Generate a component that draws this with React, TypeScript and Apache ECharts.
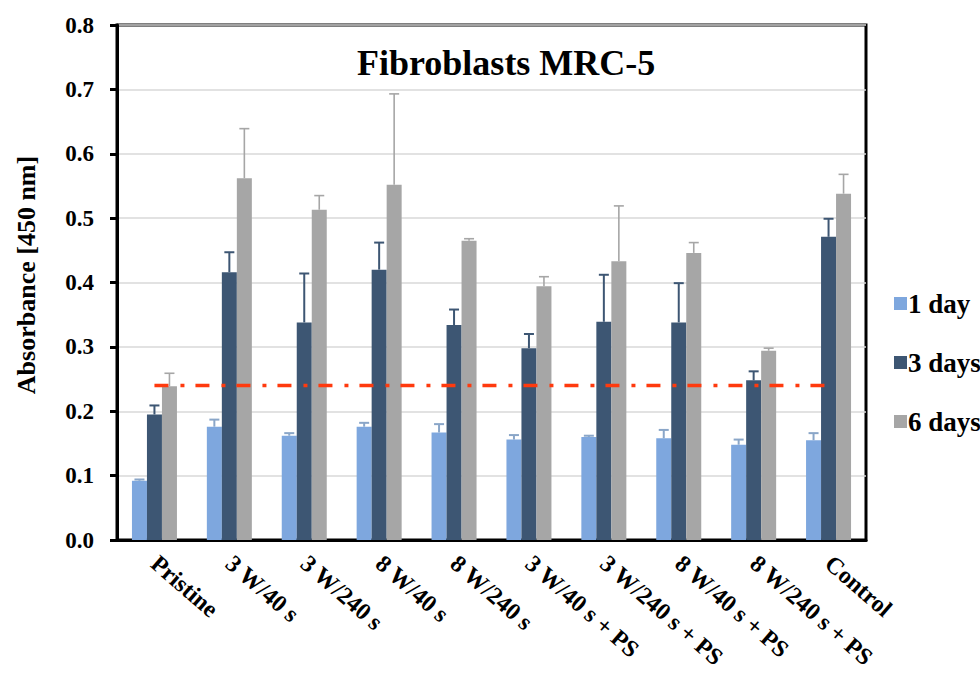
import React, { useEffect, useRef } from "react";
import * as echarts from "echarts";

const categories = [
  "Pristine",
  "3 W/40 s",
  "3 W/240 s",
  "8 W/40 s",
  "8 W/240 s",
  "3 W/40 s + PS",
  "3 W/240 s + PS",
  "8 W/40 s + PS",
  "8 W/240 s + PS",
  "Control",
];

const day1 = [0.092, 0.176, 0.162, 0.176, 0.167, 0.156, 0.16, 0.158, 0.148, 0.155];
const day1Err = [0.002, 0.011, 0.004, 0.006, 0.013, 0.007, 0.002, 0.013, 0.008, 0.011];
const day3 = [0.195, 0.416, 0.338, 0.42, 0.334, 0.298, 0.339, 0.338, 0.248, 0.471];
const day3Err = [0.014, 0.031, 0.076, 0.042, 0.024, 0.022, 0.073, 0.061, 0.014, 0.028];
const day6 = [0.239, 0.562, 0.513, 0.552, 0.465, 0.394, 0.433, 0.446, 0.294, 0.538];
const day6Err = [0.02, 0.077, 0.022, 0.141, 0.003, 0.015, 0.086, 0.016, 0.004, 0.03];
const referenceLevel = 0.24;

const seriesNames = ["1 day", "3 days", "6 days"];
const yAxisTitle = "Absorbance [450 nm]";
const colors = ["#7EA7DE", "#3D5673", "#A6A6A6"];
const errColors = ["#8AA6C8", "#3D5673", "#A6A6A6"];

const FONT = "'Liberation Serif', 'Times New Roman', serif";

function errorSeries(idx: number, values: number[], errs: number[], offset: number) {
  return {
    type: "custom",
    name: seriesNames[idx] + " err",
    z: 5,
    silent: true,
    data: values.map((v, i) => [i, v, errs[i]]),
    renderItem: (_params: any, api: any) => {
      const x = api.value(0);
      const v = api.value(1);
      const e = api.value(2);
      const base = api.coord([x, v]);
      const top = api.coord([x, v + e]);
      const px = base[0] + offset;
      const style = { stroke: errColors[idx], lineWidth: idx === 2 ? 1.6 : 2 };
      return {
        type: "group",
        children: [
          { type: "line", shape: { x1: px, y1: base[1], x2: px, y2: top[1] }, style },
          { type: "line", shape: { x1: px - 5, y1: top[1], x2: px + 5, y2: top[1] }, style },
        ],
      };
    },
  };
}

export default function App() {
  const ref = useRef<HTMLDivElement>(null);
  useEffect(() => {
    if (!ref.current) return;
    const chart = echarts.init(ref.current, null, { renderer: "svg" });
    const barData = [day1, day3, day6];
    chart.setOption({
      animation: false,
      backgroundColor: "#ffffff",
      title: {
        text: "Fibroblasts MRC-5",
        left: 352,
        top: 40,
        textStyle: { fontFamily: FONT, fontWeight: "bold", fontSize: 36, color: "#000" },
      },
      graphic: [
        {
          type: "text",
          x: 26,
          y: 275,
          rotation: Math.PI / 2,
          style: {
            text: yAxisTitle,
            fontFamily: FONT,
            fontWeight: "bold",
            fontSize: 26,
            fill: "#000",
            align: "center",
            verticalAlign: "middle",
          },
        },
      ],
      legend: {
        data: seriesNames,
        orient: "vertical",
        left: 889,
        top: 285,
        itemWidth: 13,
        itemHeight: 13,
        itemGap: 32,
        icon: "rect",
        textStyle: { fontFamily: FONT, fontWeight: "bold", fontSize: 27, color: "#000", padding: [0, 0, 0, -4] },
      },
      grid: {
        left: 117,
        right: 114,
        top: 25,
        bottom: 138,
        show: true,
        borderColor: "#000",
        borderWidth: 3,
        containLabel: false,
        outerBoundsMode: "none",
      },
      xAxis: {
        type: "category",
        data: categories,
        axisLine: { lineStyle: { color: "#000", width: 3 } },
        axisTick: { show: false },
        axisLabel: {
          rotate: -41,
          interval: 0,
          margin: 20,
          fontFamily: FONT,
          fontWeight: "bold",
          fontSize: 24,
          color: "#000",
        },
      },
      yAxis: {
        type: "value",
        min: 0,
        max: 0.8,
        interval: 0.1,
        axisLine: { show: true, lineStyle: { color: "#000", width: 3 } },
        axisTick: { show: true, length: 7, inside: false, lineStyle: { color: "#000", width: 3 } },
        axisLabel: {
          margin: 23,
          formatter: (v: number) => v.toFixed(1),
          fontFamily: FONT,
          fontWeight: "bold",
          fontSize: 23,
          color: "#000",
        },
        splitLine: { lineStyle: { color: "#D9D9D9", width: 1.5 } },
      },
      series: [
        ...barData.map((d, i) => ({
          type: "bar",
          name: seriesNames[i],
          data: d,
          barWidth: 15,
          barGap: "0%",
          itemStyle: { color: colors[i] },
        })),
        errorSeries(0, day1, day1Err, -15),
        errorSeries(1, day3, day3Err, 0),
        errorSeries(2, day6, day6Err, 15),
        {
          type: "line",
          name: "reference",
          data: categories.map(() => referenceLevel),
          symbol: "none",
          z: 6,
          lineStyle: { color: "#FF3A0E", width: 3.5, type: [14, 12, 4, 11] },
        },
      ],
    });
    return () => chart.dispose();
  }, []);
  return (
    <div
      ref={ref}
      style={{ position: "fixed", left: 0, top: 0, width: 980, height: 678 }}
    />
  );
}
